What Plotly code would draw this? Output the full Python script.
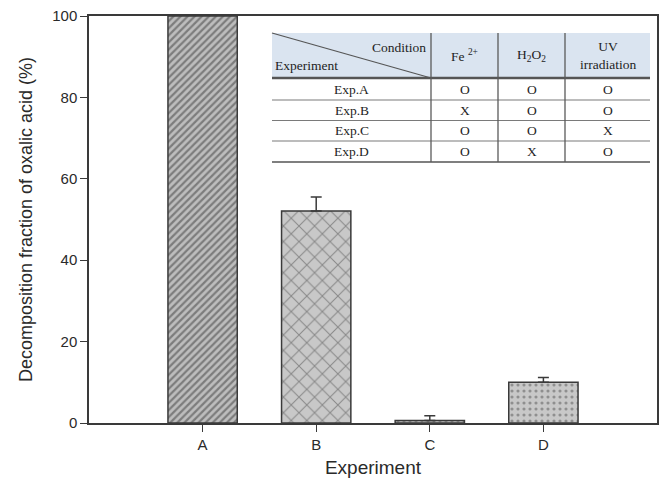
import plotly.graph_objects as go

# ---- data ----
experiments = ["A", "B", "C", "D"]
fraction = [100.0, 52.1, 0.6, 10.0]
error_up = [0.0, 3.4, 1.2, 1.2]
patterns = ["/", "x", ".", "."]

y_ticks = [0, 20, 40, 60, 80, 100]

table_header = ["Fe <sup>2+</sup>", "H<sub>2</sub>O<sub>2</sub>", "UV<br>irradiation"]
table_rows = ["Exp.A", "Exp.B", "Exp.C", "Exp.D"]
table_values = [["O", "O", "O"],
                ["X", "O", "O"],
                ["O", "O", "X"],
                ["O", "X", "O"]]

# ---- layout geometry (pixels) ----
W, H = 664, 494
ml, mr, mt, mb = 89, 7, 16, 71
pw = W - ml - mr
ph = H - mt - mb

def px(x):
    return (x - ml) / pw

def py(y):
    return (H - mb - y) / ph

fig = go.Figure()
for i, (cat, v, e, p) in enumerate(zip(experiments, fraction, error_up, patterns)):
    if p == "/":
        pat = dict(shape=p, fgcolor="#3c3c3c", bgcolor="#bdbdbd", size=5, solidity=0.45)
    elif p == "x":
        pat = dict(shape=p, fgcolor="#4a4a4a", bgcolor="#c8c8c8", size=11, solidity=0.18)
    else:
        pat = dict(shape=p, fgcolor="#555555", bgcolor="#c8c8c8", size=6, solidity=0.22)
    fig.add_trace(go.Bar(
        x=[i], y=[v], width=0.61,
        marker=dict(color="#c4c4c4", line=dict(color="#3a3a3a", width=1.5), pattern=pat),
        error_y=dict(type="data", symmetric=False, array=[e], arrayminus=[0],
                     color="#3a3a3a", thickness=1.5, width=5.5, visible=e > 0),
        showlegend=False, hoverinfo="skip", cliponaxis=True,
    ))

# ---- table overlay ----
tx = [272, 431, 498, 565, 650]       # column edges
ty = [33, 78, 100, 120.5, 141, 162]  # row edges
shapes = []
shapes.append(dict(type="rect", xref="paper", yref="paper", x0=px(tx[0]), x1=px(tx[-1]),
                   y0=py(ty[1]), y1=py(ty[0]), fillcolor="#dae4f0", line=dict(width=0), layer="above"))
shapes.append(dict(type="rect", xref="paper", yref="paper", x0=px(tx[0]), x1=px(tx[-1]),
                   y0=py(ty[-1]), y1=py(ty[1]), fillcolor="white", line=dict(width=0), layer="above"))
for j, yy in enumerate(ty[1:], start=1):
    w = 2.5 if j == 1 else (1.5 if j == len(ty) - 1 else 1.2)
    c = "#555555" if j in (1, len(ty) - 1) else "#7a7a7a"
    shapes.append(dict(type="line", xref="paper", yref="paper", x0=px(tx[0]), x1=px(tx[-1]),
                       y0=py(yy), y1=py(yy), line=dict(color=c, width=w), layer="above"))
for xx in tx[1:-1]:
    shapes.append(dict(type="line", xref="paper", yref="paper", x0=px(xx), x1=px(xx),
                       y0=py(ty[-1]), y1=py(ty[0]), line=dict(color="#5a5a5a", width=1.3), layer="above"))
shapes.append(dict(type="line", xref="paper", yref="paper", x0=px(tx[0]), x1=px(tx[1]),
                   y0=py(ty[0]), y1=py(ty[1]), line=dict(color="#555555", width=1.2), layer="above"))

annotations = []
serif = dict(family="Liberation Serif, Times New Roman, serif", size=13.5, color="#1e1e1e")
annotations.append(dict(text="Condition", xref="paper", yref="paper", x=px(tx[1] - 3), y=py(47),
                        xanchor="right", yanchor="middle", showarrow=False, font=serif))
annotations.append(dict(text="Experiment", xref="paper", yref="paper", x=px(tx[0] + 1), y=py(65),
                        xanchor="left", yanchor="middle", showarrow=False, font=serif))
for k, h in enumerate(table_header):
    annotations.append(dict(text=h, xref="paper", yref="paper", x=px((tx[k + 1] + tx[k + 2]) / 2),
                            y=py((ty[0] + ty[1]) / 2), xanchor="center", yanchor="middle",
                            showarrow=False, font=serif))
for r, (name, vals) in enumerate(zip(table_rows, table_values)):
    yc = py((ty[r + 1] + ty[r + 2]) / 2)
    annotations.append(dict(text=name, xref="paper", yref="paper", x=px((tx[0] + tx[1]) / 2), y=yc,
                            xanchor="center", yanchor="middle", showarrow=False, font=serif))
    for k, v in enumerate(vals):
        annotations.append(dict(text=v, xref="paper", yref="paper", x=px((tx[k + 1] + tx[k + 2]) / 2),
                                y=yc, xanchor="center", yanchor="middle", showarrow=False, font=serif))

sans = "Liberation Sans, Arial, sans-serif"
fig.update_layout(
    width=W, height=H,
    margin=dict(l=ml, r=mr, t=mt, b=mb, pad=0, autoexpand=False),
    paper_bgcolor="white", plot_bgcolor="white",
    font=dict(family=sans, color="#2a2a2a", size=15),
    xaxis=dict(range=[-1, 4], tickvals=list(range(len(experiments))), ticktext=experiments,
               showline=True, linecolor="#3a3a3a", linewidth=1.5, mirror=True,
               ticks="outside", ticklen=7, tickcolor="#3a3a3a", tickwidth=1.2,
               showgrid=False, zeroline=False, automargin=False,
               tickfont=dict(size=15, family=sans, color="#2a2a2a"),
               title=dict(text="Experiment", font=dict(size=19, family=sans, color="#2a2a2a"),
                          standoff=9)),
    yaxis=dict(range=[0, 100], tickvals=y_ticks,
               showline=True, linecolor="#3a3a3a", linewidth=1.5, mirror=True,
               ticks="outside", ticklen=7, tickcolor="#3a3a3a", tickwidth=1.2,
               showgrid=False, zeroline=False, automargin=False,
               tickfont=dict(size=15, family=sans, color="#2a2a2a"),
               title=dict(text="Decomposition fraction of oxalic acid (%)",
                          font=dict(size=18, family=sans, color="#2a2a2a"), standoff=15)),
    shapes=shapes, annotations=annotations,
)

fig.write_html("out.html", config={"displayModeBar": False},
               post_script="document.body.style.margin='0px';")
